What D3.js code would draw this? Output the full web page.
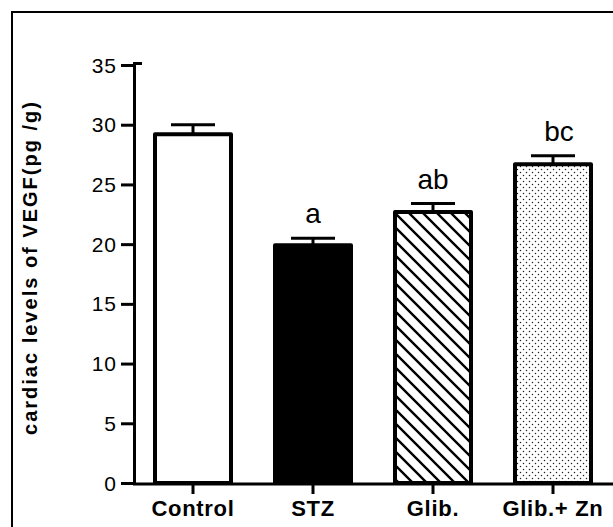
<!DOCTYPE html>
<html>
<head>
<meta charset="utf-8">
<script src="https://cdn.jsdelivr.net/npm/d3@7"></script>
<style>
  html, body { margin: 0; padding: 0; background: #fff; }
  svg { display: block; }
</style>
</head>
<body>
<svg id="chart" width="613" height="527"></svg>
<script>
// ---- data ----
const categories = ["Control", "STZ", "Glib.", "Glib.+ Zn"];
const means = [29.2, 19.9, 22.7, 26.7];
const sems = [0.8, 0.6, 0.7, 0.7];
const sigLetters = ["", "a", "ab", "bc"];
const fills = ["white", "black", "hatch", "dots"];
const yTicks = [0, 5, 10, 15, 20, 25, 30, 35];
const yLabel = "cardiac levels of VEGF(pg /g)";

const svg = d3.select("#chart");
const font = "Arial, 'Liberation Sans', Helvetica, sans-serif";

// patterns
const defs = svg.append("defs");
const hatch = defs.append("pattern")
  .attr("id", "hatch").attr("patternUnits", "userSpaceOnUse")
  .attr("width", 14).attr("height", 14);
hatch.append("rect").attr("width", 14).attr("height", 14).attr("fill", "white");
hatch.append("path").attr("d", "M-2,-2 L16,16 M-9,5 L2,16 M5,-9 L16,2")
  .attr("stroke", "black").attr("stroke-width", 2.4);

const dots = defs.append("pattern")
  .attr("id", "dots").attr("patternUnits", "userSpaceOnUse")
  .attr("width", 6).attr("height", 6);
dots.append("rect").attr("width", 6).attr("height", 6).attr("fill", "white");
dots.append("circle").attr("cx", 1.5).attr("cy", 1.5).attr("r", 0.75).attr("fill", "#222");
dots.append("circle").attr("cx", 4.5).attr("cy", 4.5).attr("r", 0.75).attr("fill", "#222");

// frame
svg.append("rect").attr("x", 12).attr("y", 12).attr("width", 700).attr("height", 700)
  .attr("fill", "none").attr("stroke", "black").attr("stroke-width", 2);

// scales
const y = d3.scaleLinear().domain([0, 35]).range([483, 65]);
const x = d3.scaleBand().domain(categories).range([133, 613])
  .paddingInner(1 / 3).paddingOuter(1 / 6);
const bw = x.bandwidth();

const fillFor = f => f === "hatch" ? "url(#hatch)" : f === "dots" ? "url(#dots)" : f;

// error bars
const eb = svg.append("g");
categories.forEach((c, i) => {
  const cx = x(c) + bw / 2;
  eb.append("line").attr("x1", cx).attr("x2", cx)
    .attr("y1", y(means[i])).attr("y2", y(means[i] + sems[i]))
    .attr("stroke", "black").attr("stroke-width", 3);
  eb.append("line").attr("x1", cx - 22).attr("x2", cx + 22)
    .attr("y1", y(means[i] + sems[i])).attr("y2", y(means[i] + sems[i]))
    .attr("stroke", "black").attr("stroke-width", 3);
});

// bars
svg.append("g").selectAll("rect").data(categories).join("rect")
  .attr("x", d => x(d) + 2)
  .attr("width", bw - 4)
  .attr("y", (d, i) => y(means[i]))
  .attr("height", (d, i) => y(0) - y(means[i]))
  .attr("fill", (d, i) => fillFor(fills[i]))
  .attr("stroke", "black").attr("stroke-width", 4)
  .attr("stroke-linejoin", "round");

// significance letters
svg.append("g").selectAll("text").data(categories).join("text")
  .attr("x", d => x(d) + bw / 2 + (d === "Glib.+ Zn" ? 6 : 0))
  .attr("y", (d, i) => y(means[i] + sems[i]) - 15)
  .attr("text-anchor", "middle")
  .attr("font-family", font).attr("font-size", 28)
  .text((d, i) => sigLetters[i]);

// y axis
const yAxis = svg.append("g").attr("transform", "translate(134,0)")
  .call(d3.axisLeft(y).tickValues(yTicks).tickSize(13).tickPadding(4).tickSizeOuter(0));
yAxis.select(".domain").attr("stroke-width", 3).attr("d", "M0.5,485V63.5H8");
yAxis.selectAll(".tick line").attr("stroke-width", 3);
yAxis.selectAll(".tick text").attr("font-family", font).attr("font-size", 21)
  .attr("letter-spacing", 1).attr("fill", "black").attr("dy", "0.34em");

// x axis
const xAxis = svg.append("g").attr("transform", "translate(0,484)")
  .call(d3.axisBottom(x).tickSize(10).tickPadding(6).tickSizeOuter(0));
xAxis.select(".domain").attr("stroke-width", 3).attr("d", "M133,0H613");
xAxis.selectAll(".tick line").attr("stroke-width", 3);
xAxis.selectAll(".tick text").attr("font-family", font).attr("font-size", 22)
  .attr("font-weight", "bold").attr("letter-spacing", 0.7).attr("fill", "black");

// y label
svg.append("text")
  .attr("transform", "translate(37,268.5) rotate(-90)")
  .attr("text-anchor", "middle")
  .attr("font-family", font).attr("font-size", 20).attr("font-weight", "bold")
  .attr("textLength", 333).attr("lengthAdjust", "spacing")
  .text(yLabel);
</script>
</body>
</html>
